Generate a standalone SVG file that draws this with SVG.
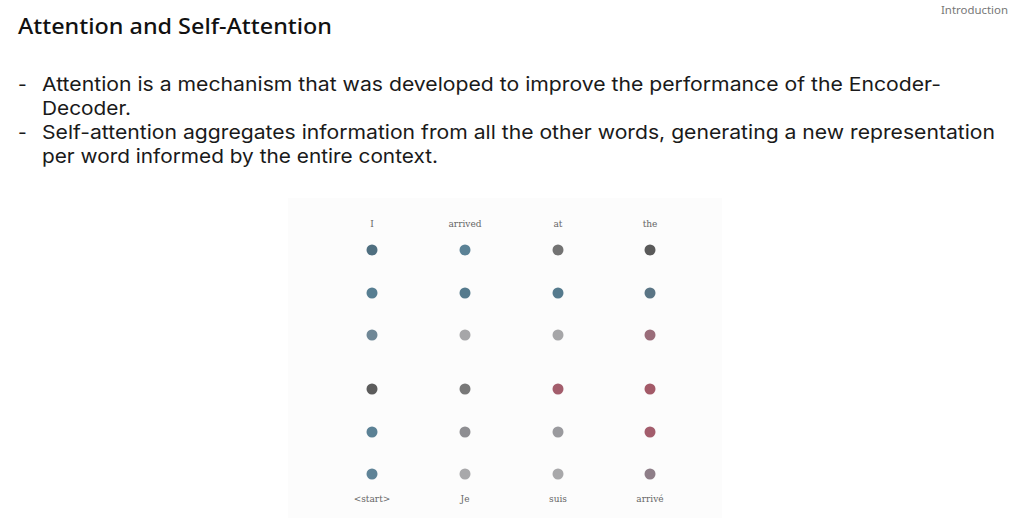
<svg xmlns="http://www.w3.org/2000/svg" width="1024" height="518" viewBox="0 0 1024 518">
<style>
.title{font-family:"Noto Sans","Open Sans",sans-serif;font-size:21.5px;font-weight:500;fill:#111}
.intro{font-family:"Noto Sans","Open Sans",sans-serif;font-size:11px;fill:#777}
.body{font-family:Inter,"Noto Sans",sans-serif;font-size:19px;fill:#1a1a1a}
.lbl{font-family:"DejaVu Serif","Liberation Serif",serif;font-size:9px;fill:#666;text-anchor:middle}
circle{stroke:none}
</style>
<rect width="1024" height="518" fill="#ffffff"/>
<text class="intro" x="1008" y="14" text-anchor="end" textLength="67" lengthAdjust="spacingAndGlyphs">Introduction</text>
<text class="title" x="18" y="34" textLength="314" lengthAdjust="spacingAndGlyphs">Attention and Self-Attention</text>
<g id="bullets">
<text class="body" x="18" y="91">-</text>
<text class="body" x="42" y="91" textLength="899" lengthAdjust="spacingAndGlyphs">Attention is a mechanism that was developed to improve the performance of the Encoder-</text>
<text class="body" x="42" y="115" textLength="89" lengthAdjust="spacingAndGlyphs">Decoder.</text>
<text class="body" x="18" y="139">-</text>
<text class="body" x="42" y="139" textLength="953" lengthAdjust="spacingAndGlyphs">Self-attention aggregates information from all the other words, generating a new representation</text>
<text class="body" x="42" y="163" textLength="396" lengthAdjust="spacingAndGlyphs">per word informed by the entire context.</text>
</g>
<g id="panel">
<rect x="288" y="198" width="434" height="320" fill="#fcfcfc"/>
<g id="top-labels">
<text class="lbl" x="372" y="227">I</text>
<text class="lbl" x="465" y="227">arrived</text>
<text class="lbl" x="558" y="227">at</text>
<text class="lbl" x="650" y="227">the</text>
</g>
<g id="row1">
<circle cx="372" cy="250" r="5.5" fill="#4f6f80"/>
<circle cx="465" cy="250" r="5.5" fill="#5b8296"/>
<circle cx="558" cy="250" r="5.5" fill="#737373"/>
<circle cx="650" cy="250" r="5.5" fill="#5a5a5a"/>
</g>
<g id="row2">
<circle cx="372" cy="293" r="5.5" fill="#577e92"/>
<circle cx="465" cy="293" r="5.5" fill="#557a8d"/>
<circle cx="558" cy="293" r="5.5" fill="#557a8d"/>
<circle cx="650" cy="293" r="5.5" fill="#5a7585"/>
</g>
<g id="row3">
<circle cx="372" cy="335" r="5.5" fill="#6f8796"/>
<circle cx="465" cy="335" r="5.5" fill="#a6a6a8"/>
<circle cx="558" cy="335" r="5.5" fill="#a6a6a8"/>
<circle cx="650" cy="335" r="5.5" fill="#9a6d7a"/>
</g>
<g id="row4">
<circle cx="372" cy="389" r="5.5" fill="#5c5c5c"/>
<circle cx="465" cy="389" r="5.5" fill="#787878"/>
<circle cx="558" cy="389" r="5.5" fill="#a35d6c"/>
<circle cx="650" cy="389" r="5.5" fill="#a35a68"/>
</g>
<g id="row5">
<circle cx="372" cy="432" r="5.5" fill="#5b8195"/>
<circle cx="465" cy="432" r="5.5" fill="#8e8e92"/>
<circle cx="558" cy="432" r="5.5" fill="#9a9a9e"/>
<circle cx="650" cy="432" r="5.5" fill="#a35d6c"/>
</g>
<g id="row6">
<circle cx="372" cy="474" r="5.5" fill="#5f8397"/>
<circle cx="465" cy="474" r="5.5" fill="#a8a8aa"/>
<circle cx="558" cy="474" r="5.5" fill="#a8a8aa"/>
<circle cx="650" cy="474" r="5.5" fill="#8e7e88"/>
</g>
<g id="bottom-labels">
<text class="lbl" x="372" y="502">&lt;start&gt;</text>
<text class="lbl" x="465" y="502">Je</text>
<text class="lbl" x="558" y="502">suis</text>
<text class="lbl" x="650" y="502">arrivé</text>
</g>
</g>
</svg>
